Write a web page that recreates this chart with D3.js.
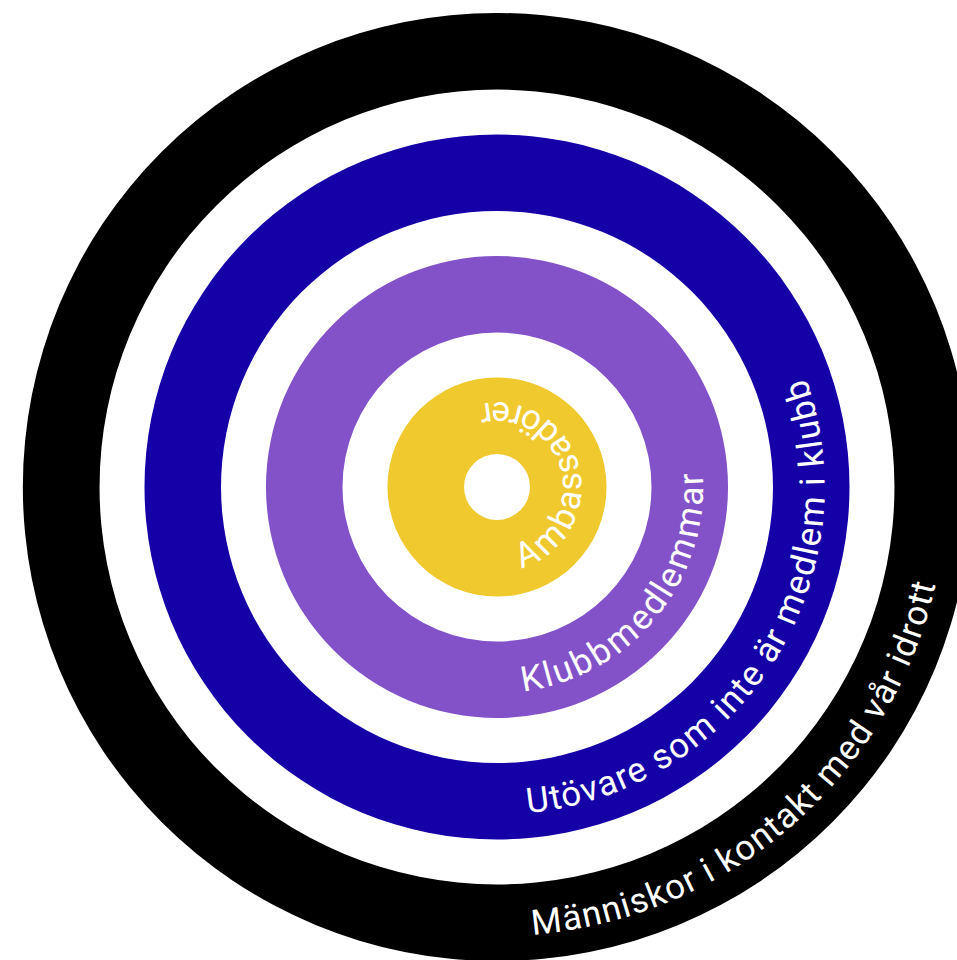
<!DOCTYPE html>
<html>
<head>
<meta charset="utf-8">
<script src="https://cdnjs.cloudflare.com/ajax/libs/d3/7.8.5/d3.min.js"></script>
<style>
  body { margin: 0; background: #fff; }
  .label { font-family: Roboto, 'Noto Sans', sans-serif; font-weight: 400; fill: #fff; }
</style>
</head>
<body>
<div class="chart"></div>
<script>
// rings, from the centre outwards
var labels = ['Ambassadörer', 'Klubbmedlemmar', 'Utövare som inte är medlem i klubb', 'Människor i kontakt med vår idrott'];
var colors = ['#f0c92e', '#8352c9', '#1500a8', '#000000'];

// layout
var width = 957, height = 960;
var cx = 497, cy = 487;
var holeRadius = 33, outerRadius = 474;
// where each label starts and ends, degrees clockwise from 3 o'clock
var labelStart = [75, 83, 84.7, 85.5];
var labelEnd = [-103, -4, -19.5, 12.5];

var svg = d3.select('.chart')
	.append('svg')
	.attr('width', width)
	.attr('height', height)
	.style('display', 'block')
	.append('g')
	.attr('transform', 'translate(' + cx + ',' + cy + ')');

// radial band scale: one band per ring, white gaps between
var rScale = d3.scaleBand()
	.domain(labels)
	.range([holeRadius, outerRadius])
	.paddingInner(0.37)
	.paddingOuter(0);

function mid(d) { return rScale(d) + rScale.bandwidth() / 2; }
function arcLen(deg, r) { return deg * Math.PI / 180 * r; }

var arc = d3.arc();

svg.selectAll('.ring')
	.data(labels)
	.enter().append('path')
	.attr('class', 'ring')
	.attr('fill', function(d, i) { return colors[i]; })
	.attr('d', function(d) {
		return arc({innerRadius: rScale(d), outerRadius: rScale(d) + rScale.bandwidth(), startAngle: 0, endAngle: 2 * Math.PI});
	});

// guide circles for the text: start at the bottom, run counterclockwise
svg.selectAll('.guide')
	.data(labels)
	.enter().append('path')
	.attr('class', 'guide')
	.attr('id', function(d, i) { return 'guide' + i; })
	.attr('fill', 'none')
	.attr('d', function(d) {
		var r = mid(d);
		return 'M0,' + r + 'A' + r + ',' + r + ' 0 1 0 0,' + (-r) + 'A' + r + ',' + r + ' 0 1 0 0,' + r;
	});

var texts = svg.selectAll('.label')
	.data(labels)
	.enter().append('text')
	.attr('class', 'label')
	.attr('dy', '0.38em')
	.style('font-size', '35px');

texts.append('textPath')
	.attr('href', function(d, i) { return '#guide' + i; })
	.attr('startOffset', function(d, i) { return arcLen(90 - labelStart[i], mid(d)); })
	.text(function(d) { return d; });

// spread letters so each label covers the same arc as the original
texts.each(function(d, i) {
	var target = arcLen(labelStart[i] - labelEnd[i], mid(d));
	var natural = this.getComputedTextLength();
	d3.select(this).style('letter-spacing', ((target - natural) / (d.length - 1)) + 'px');
});
</script>
</body>
</html>
